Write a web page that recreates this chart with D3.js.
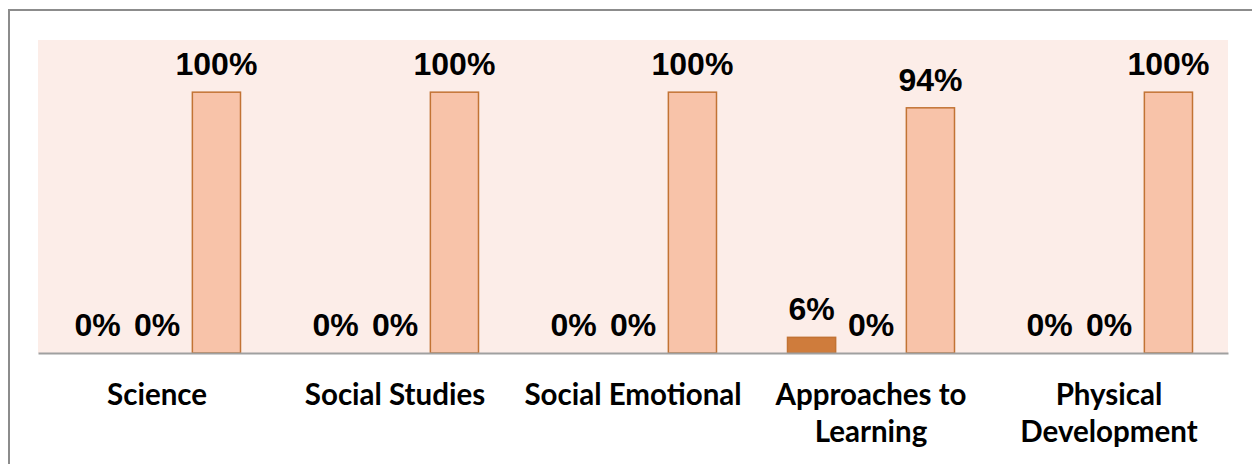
<!DOCTYPE html>
<html>
<head>
<meta charset="utf-8">
<script src="https://cdn.jsdelivr.net/npm/d3@7"></script>
<style>
  body { margin: 0; background: #fff; }
  .tick text { font-family: Lato, "Open Sans", sans-serif; font-weight: bold; }
</style>
</head>
<body>
<div id="chart"></div>
<script>
// category names and the three series (percent)
var categories = ['Science', 'Social Studies', 'Social Emotional', 'Approaches to Learning', 'Physical Development'];
var seriesNames = ['Emerging', 'Developing', 'Proficient'];
var emerging = [0, 0, 0, 6, 0];
var developing = [0, 0, 0, 0, 0];
var proficient = [100, 100, 100, 94, 100];
var yMax = 120;

var width = 1252;
var height = 464;
var margin = { top: 40, right: 24, bottom: 111, left: 38 };

var colors = { Emerging: '#CF7C3C', Developing: '#F2A27A', Proficient: '#F8C3A9' };

// rows for the grouped bars
var rows = categories.map(function(c, i) {
  return { cat: c, values: [emerging[i], developing[i], proficient[i]] };
});

var svg = d3.select('#chart')
  .append('svg')
  .attr('width', width)
  .attr('height', height);

// outer chart border (runs off the right and bottom edge)
svg.append('rect')
  .attr('x', 9)
  .attr('y', 10)
  .attr('width', width)
  .attr('height', height)
  .attr('fill', 'none')
  .attr('stroke', '#8C8C8C')
  .attr('stroke-width', 2);

var x0 = d3.scaleBand()
  .domain(categories)
  .range([margin.left, width - margin.right]);

var x1 = d3.scaleBand()
  .domain(seriesNames)
  .range([35.5, x0.bandwidth() - 35.5])
  .paddingInner(0.19);

var y = d3.scaleLinear()
  .domain([0, yMax])
  .range([height - margin.bottom, margin.top]);

// plot area background
svg.append('rect')
  .attr('x', margin.left)
  .attr('y', margin.top)
  .attr('width', width - margin.left - margin.right)
  .attr('height', y(0) - margin.top)
  .attr('fill', '#FCEDE8');

var groups = svg.selectAll('g.cat')
  .data(rows)
  .enter()
  .append('g')
  .attr('class', 'cat')
  .attr('transform', function(d) { return 'translate(' + x0(d.cat) + ',0)'; });

var bars = groups.selectAll('g.bar')
  .data(function(d) {
    return d.values.map(function(v, i) { return { name: seriesNames[i], value: v }; });
  })
  .enter()
  .append('g')
  .attr('class', 'bar');

bars.filter(function(d) { return d.value > 0; })
  .append('rect')
  .attr('x', function(d) { return x1(d.name); })
  .attr('y', function(d) { return y(d.value); })
  .attr('width', x1.bandwidth())
  .attr('height', function(d) { return y(0) - y(d.value); })
  .attr('fill', function(d) { return colors[d.name]; })
  .attr('stroke', '#C27334')
  .attr('stroke-width', 1.5);

bars.append('text')
  .attr('x', function(d) { return x1(d.name) + x1.bandwidth() / 2; })
  .attr('y', function(d) { return y(d.value) - 17; })
  .attr('text-anchor', 'middle')
  .attr('font-family', '"Liberation Sans", Arial, sans-serif')
  .attr('font-weight', 'bold')
  .attr('font-size', 32)
  .attr('fill', '#000')
  .text(function(d) { return d.value + '%'; });

// category axis
var axis = svg.append('g')
  .attr('transform', 'translate(0,' + y(0) + ')')
  .call(d3.axisBottom(x0).tickSize(0).tickPadding(0));

axis.select('.domain')
  .attr('stroke', '#A0A0A0')
  .attr('stroke-width', 2);

axis.selectAll('.tick text')
  .attr('font-size', 29.5)
  .attr('fill', '#000')
  .each(function(d) {
    var t = d3.select(this);
    var lines = d === 'Approaches to Learning' ? ['Approaches to', 'Learning']
      : d === 'Physical Development' ? ['Physical', 'Development'] : [d];
    t.text(null).attr('y', 0).attr('dy', null);
    lines.forEach(function(line, i) {
      t.append('tspan')
        .attr('x', 0)
        .attr('y', 52 + i * 37)
        .text(line);
    });
  });
</script>
</body>
</html>
